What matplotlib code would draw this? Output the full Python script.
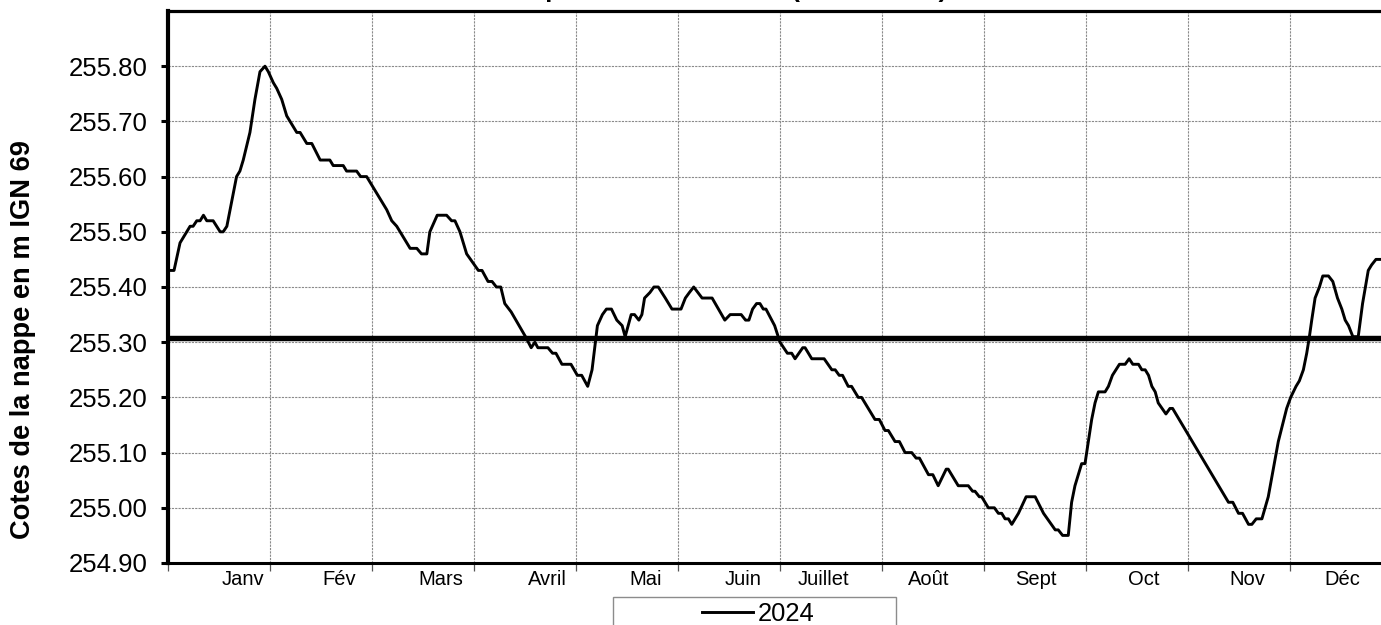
import matplotlib
matplotlib.use('Agg')
import matplotlib.pyplot as plt
from matplotlib.patches import Rectangle
import numpy as np

plt.rcParams['font.family'] = ['Liberation Sans', 'DejaVu Sans']

# jour de l'annee (0 = 1er janvier) et cote de la nappe (m IGN 69)
jours = [0, 1.8, 3.6, 6.6, 7.5, 8.6, 9.6, 10.6, 11.6, 13.5, 15.6, 16.5, 17.6, 20.5, 21.5,
         22.5, 24.5, 26.0, 27.5, 29.0, 30.0, 31.5, 32.5, 34.0, 35.5, 38.5, 39.5, 41.5, 43.0,
         45.5, 48.4, 49.4, 52.4, 53.4, 56.4, 57.6, 59.4, 62.4, 65.4, 66.9, 68.4, 72.4, 74.4,
         75.8, 77.4, 78.3, 80.5, 83.3, 84.8, 85.8, 87.3, 89.3, 92.8, 93.9, 95.7, 96.9, 98.2,
         99.5, 100.7, 102.6, 106.9, 108.6, 109.7, 110.6, 113.6, 115.0, 116.0, 117.8, 120.5,
         122.4, 123.7, 125.5, 126.8, 128.4, 129.9, 131.1, 132.6, 134.2, 135.8, 136.7, 138.5,
         139.5, 140.8, 141.7, 142.5, 144.1, 145.3, 146.6, 148.7, 150.7, 153.4, 154.7, 155.9,
         157.2, 159.7, 162.7, 164.6, 166.5, 168.1, 171.4, 172.7, 173.7, 174.8, 176.0, 177.0,
         178.0, 178.8, 181.4, 183.0, 185.2, 186.5, 187.5, 189.8, 190.5, 192.5, 196.2, 198.5,
         199.5, 200.7, 201.7, 203.4, 204.4, 206.4, 207.4, 211.4, 212.7, 214.4, 215.4, 217.4,
         218.7, 220.4, 222.4, 223.7, 224.7, 227.4, 228.7, 230.3, 232.7, 233.3, 236.3, 239.3,
         240.6, 241.3, 242.6, 243.3, 245.3, 247.1, 248.3, 249.3, 250.3, 251.3, 252.3, 254.3,
         256.6, 259.3, 261.8, 265.3, 266.2, 267.5, 269.2, 270.2, 271.2, 273.2, 274.2, 275.2,
         276.2, 277.2, 278.2, 280.2, 281.2, 282.4, 284.5, 286.2, 287.4, 288.5, 290.2, 291.2,
         292.2, 293.2, 294.2, 295.2, 296.1, 298.4, 299.6, 300.4, 317.1, 318.4, 320.1, 321.3,
         323.1, 324.1, 325.4, 327.1, 329.0, 332.0, 334.5, 335.7, 337.3, 338.3, 339.5, 340.5,
         341.3, 342.0, 343.0, 344.3, 345.3, 347.0, 348.3, 349.7, 351.0, 352.0, 353.0, 354.3,
         355.9, 357.2, 358.9, 359.9, 361.2, 362.7, 366.0]
cotes = [255.43, 255.43, 255.48, 255.51, 255.51, 255.52, 255.52, 255.53, 255.52, 255.52,
         255.50, 255.50, 255.51, 255.60, 255.61, 255.63, 255.68, 255.74, 255.79, 255.80,
         255.79, 255.77, 255.76, 255.74, 255.71, 255.68, 255.68, 255.66, 255.66, 255.63,
         255.63, 255.62, 255.62, 255.61, 255.61, 255.60, 255.60, 255.57, 255.54, 255.52,
         255.51, 255.47, 255.47, 255.46, 255.46, 255.50, 255.53, 255.53, 255.52, 255.52,
         255.50, 255.46, 255.43, 255.43, 255.41, 255.41, 255.40, 255.40, 255.37, 255.355,
         255.31, 255.29, 255.30, 255.29, 255.29, 255.28, 255.28, 255.26, 255.26, 255.24,
         255.24, 255.22, 255.25, 255.33, 255.35, 255.36, 255.36, 255.34, 255.33, 255.31,
         255.35, 255.35, 255.34, 255.35, 255.38, 255.39, 255.40, 255.40, 255.38, 255.36,
         255.36, 255.38, 255.39, 255.40, 255.38, 255.38, 255.36, 255.34, 255.35, 255.35,
         255.34, 255.34, 255.36, 255.37, 255.37, 255.36, 255.36, 255.33, 255.30, 255.28,
         255.28, 255.27, 255.29, 255.29, 255.27, 255.27, 255.25, 255.25, 255.24, 255.24,
         255.22, 255.22, 255.20, 255.20, 255.16, 255.16, 255.14, 255.14, 255.12, 255.12,
         255.10, 255.10, 255.09, 255.09, 255.06, 255.06, 255.04, 255.07, 255.07, 255.04,
         255.04, 255.03, 255.03, 255.02, 255.02, 255.00, 255.00, 254.99, 254.99, 254.98,
         254.98, 254.97, 254.99, 255.02, 255.02, 254.99, 254.96, 254.96, 254.95, 254.95,
         255.01, 255.04, 255.08, 255.08, 255.12, 255.16, 255.19, 255.21, 255.21, 255.22,
         255.24, 255.26, 255.26, 255.27, 255.26, 255.26, 255.25, 255.25, 255.24, 255.22,
         255.21, 255.19, 255.17, 255.18, 255.18, 255.01, 255.01, 254.99, 254.99, 254.97,
         254.97, 254.98, 254.98, 255.02, 255.12, 255.18, 255.20, 255.22, 255.23, 255.25,
         255.28, 255.31, 255.34, 255.38, 255.40, 255.42, 255.42, 255.41, 255.38, 255.36,
         255.34, 255.33, 255.31, 255.31, 255.37, 255.43, 255.44, 255.45, 255.45, 255.45]

seuil = 255.307  # trait horizontal epais
mois = ['Janv', 'Fév', 'Mars', 'Avril', 'Mai', 'Juin', 'Juillet', 'Août', 'Sept', 'Oct', 'Nov', 'Déc']
pos_mois = [22.4, 51.3, 81.6, 113.3, 142.9, 171.9, 195.9, 227.6, 259.6, 291.7, 322.7, 351.2]
y_ticks = [254.90, 255.00, 255.10, 255.20, 255.30, 255.40, 255.50, 255.60, 255.70, 255.80]

W, H = 1381, 625
fig = plt.figure(figsize=(W / 100, H / 100), dpi=100)
ax = fig.add_axes([168 / W, 1 - 563 / H, 1224 / W, 552 / H])

ax.plot(jours, cotes, color='black', lw=2.1, solid_joinstyle='round', label='2024', zorder=3)
ax.axhline(seuil, color='black', lw=3.9, zorder=4)

ax.set_xlim(0, 366)
ax.set_ylim(254.90, 255.90)

bornes = np.arange(0, 366.1, 366 / 12)
ax.set_xticks(bornes)
ax.set_xticklabels([])
ax.set_yticks(y_ticks)
ax.set_yticklabels([f'{v:.2f}' for v in y_ticks], fontsize=18.5)
ax.tick_params(axis='y', length=5, width=2.2, pad=10, direction='out')
ax.tick_params(axis='x', length=6, width=0.9, color='#555555', direction='out')

ax.grid(True, color='#8a8a8a', lw=0.8, linestyle=(0, (2, 1)))

for side, lw in [('left', 3.0), ('bottom', 2.2), ('top', 2.3), ('right', 2.2)]:
    ax.spines[side].set_linewidth(lw)

for lab, x in zip(mois, pos_mois):
    ax.text(x, -0.029, lab, transform=ax.get_xaxis_transform(), ha='center', va='center', fontsize=14.5)

fig.text(23 / W, 1 - 340 / H, 'Cotes de la nappe en m IGN 69', rotation=90, fontsize=19.6,
         fontweight='bold', ha='center', va='center')

# titre, presque entierement coupe en haut de l'image (comme sur l'original)
fig.text(382 / W, 1 + 2.5 / H, 'Évolution du piézomètre de suivi (année 2024)', fontsize=18.5,
         fontweight='bold', ha='left', va='baseline')

# cadre de legende coupe par le bas
fig.patches.append(Rectangle((613 / W, -0.05), 283 / W, 0.05 + 1 - 597 / H, transform=fig.transFigure,
                             facecolor='white', edgecolor='#8c8c8c', lw=1.0))
fig.legend(handles=ax.get_lines()[:1], loc='center', bbox_to_anchor=(758 / W, 1 - 614 / H),
           frameon=False, fontsize=18.4, handlelength=2.0, handletextpad=0.2, borderpad=0)

fig.savefig('out.png', dpi=100)
